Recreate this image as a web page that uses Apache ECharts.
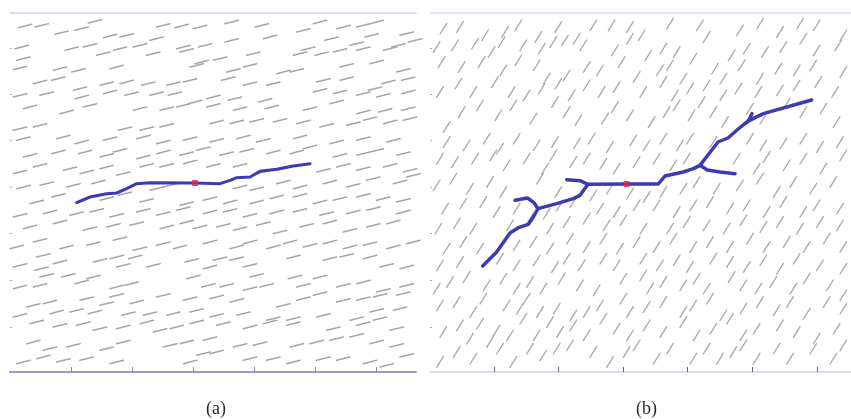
<!DOCTYPE html>
<html>
<head>
<meta charset="utf-8">
<script src="https://cdn.jsdelivr.net/npm/echarts@6.0.0/dist/echarts.min.js"></script>
<style>
  html, body { margin: 0; padding: 0; background: #fff; }
  #chart { width: 851px; height: 419px; }
</style>
</head>
<body>
<div id="chart"></div>
<script>
// units: both panels use the same local units (3 units = 1 px on the picture), y grows downward

// (a) background fractures, centers [x, y]
const fracturesA = [
  [45,42],[95,40],[155,62],[215,50],[255,28],[300,72],[350,70],[460,40],[515,42],[570,45],[665,30],[755,40],[880,55],[930,30],[1000,45],[1060,40],[1100,30],[1190,65],
  [35,105],[185,110],[240,100],[330,110],[390,100],[440,80],[520,105],[585,100],[665,85],[780,75],[895,110],[965,80],[1040,95],[1085,70],[1165,100],[1215,85],
  [40,140],[280,125],[430,125],[530,115],[575,150],[630,140],[730,125],[870,125],[935,125],[990,115],[1060,110],[1140,110],
  [30,168],[150,170],[205,175],[320,165],[560,160],[670,175],[720,160],[820,180],[860,175],[1010,160],[1100,150],[1180,175],
  [90,210],[145,200],[210,230],[290,215],[350,210],[415,215],[490,215],[540,205],[655,200],[720,215],[790,215],[940,205],[1010,200],[1095,230],[1135,210],[1195,200],
  [30,250],[110,245],[215,255],[300,240],[365,245],[440,245],[495,245],[555,270],[610,255],[675,260],[765,265],[930,235],[990,240],[1060,245],[1120,250],[1195,240],
  [60,285],[170,300],[240,280],[390,290],[470,290],[520,280],[610,280],[690,290],[785,285],[900,290],[980,270],[1060,300],[1125,295],[1195,290],
  [30,350],[90,340],[345,350],[410,350],[470,340],[620,330],[680,330],[740,325],[810,325],[880,330],[950,340],[1030,335],[1080,320],[1140,330],[1200,320],
  [40,380],[160,375],[215,390],[300,380],[400,375],[460,390],[540,380],[620,385],[700,375],[760,385],[870,375],[980,390],[1060,380],[1150,385],
  [60,430],[145,420],[225,420],[290,430],[330,415],[400,435],[460,420],[530,425],[580,410],[650,425],[710,415],[790,420],[860,420],[900,405],[990,430],[1060,425],[1100,415],[1180,425],
  [30,480],[90,460],[180,470],[230,480],[290,465],[340,485],[410,460],[470,460],[540,450],[610,460],[690,460],[760,480],[820,470],[940,475],[1000,460],[1060,470],[1140,460],[1200,475],
  [40,525],[110,515],[190,520],[265,510],[440,530],[480,520],[690,525],[740,530],[820,510],[870,525],[960,510],[1030,520],[1090,500],[1170,510],[1210,490],
  [80,570],[145,550],[290,560],[345,545],[410,565],[530,575],[600,560],[660,570],[740,570],[800,555],[870,550],[930,570],[990,560],[1060,550],[1120,560],[1180,565],
  [30,610],[120,600],[200,605],[260,595],[320,610],[400,595],[460,605],[520,590],[600,600],[660,595],[720,610],[800,600],[870,595],[950,605],[1030,600],[1090,590],[1180,600],
  [60,645],[150,630],[240,650],[310,640],[380,635],[470,645],[530,630],[570,645],[640,640],[690,650],[760,635],[810,660],[890,640],[960,630],[1020,655],[1090,640],[1150,630],
  [20,705],[90,685],[170,705],[250,695],[330,680],[390,710],[460,695],[510,705],[600,690],[680,705],[720,690],[790,705],[840,690],[900,700],[960,690],[1020,705],[1080,695],[1150,705],[1210,690],
  [30,760],[100,730],[95,770],[150,750],[270,745],[320,735],[340,760],[375,735],[430,760],[545,745],[600,765],[630,740],[680,740],[720,760],[850,735],[960,740],[1010,730],[1080,735],[1130,760],[1190,765],
  [30,825],[90,820],[110,790],[175,790],[215,810],[250,795],[320,825],[365,815],[550,795],[595,820],[650,820],[740,790],[720,830],[770,820],[855,795],[880,820],[930,795],[1000,820],[1060,810],[1120,835],[1190,820],
  [70,880],[120,870],[230,860],[290,875],[320,850],[380,870],[460,850],[540,860],[620,855],[680,865],[820,880],[880,860],[930,845],[1000,865],[1060,860],[1110,850],[1180,845],
  [30,910],[140,900],[200,895],[255,900],[355,905],[420,905],[490,905],[560,895],[620,910],[700,905],[790,920],[850,920],[940,910],[1040,920],[1100,895],[1170,890],
  [80,930],[150,940],[220,935],[270,950],[340,945],[410,930],[450,955],[500,945],[560,930],[640,935],[720,945],[780,930],[850,935],[970,950],[1060,935],[1110,920],[1160,950],
  [70,990],[120,1010],[190,1000],[290,1010],[340,990],[480,1000],[530,990],[600,980],[690,1000],[750,995],[860,1000],[920,990],[980,980],[1040,970],[1100,990],[1160,1000],
  [40,1050],[100,1035],[160,1045],[230,1040],[320,1050],[540,1050],[580,1025],[620,1020],[720,1040],[790,1040],[850,1050],[940,1040],[1000,1040],[1080,1050],[1130,1060],[1190,1030]
];

// (b) background fractures, centers [x, y]
const fracturesB = [
  [40,50],[90,45],[165,70],[225,60],[265,40],[325,75],[385,45],[440,80],[490,40],[545,40],[600,45],[635,70],[720,35],[810,40],[930,55],[990,35],[1050,60],[1110,35],[1160,40],[1240,70],
  [20,105],[75,100],[135,95],[185,120],[215,90],[280,100],[335,110],[370,90],[405,85],[460,100],[555,115],[600,80],[655,130],[700,110],[740,120],[830,75],[905,130],[950,110],[1005,120],[1060,105],[1120,80],[1160,115],[1225,100],
  [35,150],[95,165],[155,150],[220,175],[265,145],[320,160],[350,200],[410,190],[470,165],[510,175],[575,150],[620,195],[690,175],[720,160],[760,200],[790,140],[855,170],[880,200],[935,160],[990,200],[1045,170],[1100,175],[1150,160],[1240,180],
  [30,240],[85,215],[130,240],[195,210],[245,240],[290,250],[335,230],[385,215],[425,250],[470,220],[515,240],[560,225],[640,240],[700,210],[735,250],[780,230],[830,220],[880,250],[925,230],[985,240],[1050,235],[1100,220],[1165,210],[1215,240],
  [50,345],[95,300],[150,280],[205,310],[250,280],[310,320],[375,270],[410,300],[445,325],[525,320],[555,285],[600,310],[665,330],[710,300],[740,280],[785,310],[815,270],[850,300],[885,330],[960,290],[1000,320],[1070,275],[1120,300],[1180,290],[1220,330],
  [50,390],[110,400],[170,380],[210,410],[260,380],[320,400],[375,390],[440,395],[485,380],[540,405],[610,385],[650,400],[700,380],[750,400],[780,380],[850,390],[960,380],[1000,400],[1060,395],[1120,380],[1170,405],[1230,390],
  [30,440],[75,450],[135,440],[190,430],[230,460],[290,440],[345,470],[370,430],[430,450],[470,440],[520,455],[560,470],[620,450],[680,440],[730,460],[770,440],[920,440],[980,470],[1010,435],[1070,460],[1120,440],[1180,470],[1240,430],
  [20,520],[70,500],[120,530],[180,510],[220,540],[330,500],[385,540],[490,550],[540,530],[600,545],[650,555],[700,540],[760,530],[800,510],[860,530],[930,520],[990,500],[1040,540],[1090,510],[1150,530],[1210,510],
  [45,590],[100,575],[160,570],[200,600],[260,590],[350,605],[390,580],[430,570],[510,590],[560,600],[620,580],[680,580],[740,600],[790,580],[840,570],[900,590],[950,580],[1010,600],[1060,570],[1120,600],[1160,580],[1230,590],
  [25,650],[80,635],[130,650],[240,640],[300,620],[360,650],[410,630],[470,620],[530,640],[580,625],[640,650],[720,650],[770,630],[830,640],[890,650],[940,625],[1000,645],[1050,630],[1110,650],[1170,630],[1230,640],
  [50,710],[100,690],[150,710],[260,700],[310,690],[360,710],[420,680],[470,705],[520,680],[570,710],[620,690],[680,705],[730,680],[790,705],[840,690],[900,705],[960,680],[1010,705],[1070,690],[1130,705],[1190,680],[1240,705],
  [30,760],[90,750],[210,740],[260,760],[320,745],[375,765],[410,740],[455,760],[520,740],[560,760],[640,740],[690,760],[740,745],[780,765],[850,740],[900,750],[950,765],[1000,745],[1050,770],[1100,740],[1170,760],[1240,770],
  [20,830],[60,810],[110,795],[170,820],[220,800],[260,830],[300,810],[340,830],[395,800],[450,820],[500,835],[580,800],[640,790],[660,830],[700,810],[760,820],[800,800],[830,830],[905,795],[940,820],[985,830],[1030,810],[1090,830],[1130,800],[1200,820],[1240,850],
  [30,880],[80,870],[130,900],[160,860],[230,880],[270,890],[290,860],[330,900],[380,890],[430,910],[470,900],[510,880],[580,860],[600,900],[650,885],[700,870],[760,900],[790,880],[840,860],[880,910],[940,890],[990,870],[1040,895],[1080,870],[1130,905],[1190,870],[1240,890],
  [40,960],[90,940],[120,980],[150,935],[200,955],[240,970],[280,920],[320,970],[360,930],[390,960],[430,940],[470,970],[520,920],[560,950],[600,970],[650,940],[700,960],[760,930],[800,970],[850,950],[900,920],[940,970],[980,950],[1050,940],[1100,960],[1160,980],[1220,950],
  [30,1050],[80,1020],[130,1040],[180,990],[210,1010],[250,1050],[300,1010],[340,1030],[380,1010],[420,1000],[490,1020],[540,1050],[590,1020],[620,1000],[680,1040],[720,1010],[790,1040],[830,1010],[870,1040],[910,1020],[940,1000],[980,1040],[1040,1010],[1080,1040],[1150,1010],[1210,1040],[1240,1000]
];

// half extent of one fracture [dx, dy] (orientation of each set)
const halfA = [20, 5];
const halfB = [10, 16];

// propagated crack paths
const crackA = [[200,572],[240,555],[290,545],[320,543],[350,530],[380,515],[420,512],[555,513],[630,515],[660,505],[680,497],[720,495],[750,478],[800,472],[850,462],[900,455]];
const crackBMain = [[158,762],[200,720],[240,663],[265,647],[295,637],[310,615],[324,590],[380,575],[430,560],[450,550],[474,517],[590,516],[685,516],[705,492],[760,480],[790,470],[810,460],[834,429],[864,390],[894,378],[921,354],[953,328],[1000,305],[1145,264]];
const crackBBranch1 = [[324,590],[312,572],[292,558],[255,565]];
const crackBBranch2 = [[474,517],[450,506],[410,503]];
const crackBBranch3 = [[810,460],[832,474],[870,480],[915,485]];
const crackBBranch4 = [[950,332],[960,318],[966,305]];

// injection points
const sourceA = [[555,513]];
const sourceB = [[590,516]];

// bottom axis ticks / left ticks
const ticksA = [183, 366, 549, 732, 915, 1098];
const ticksB = [192, 385, 579, 773, 968, 1161];
const yTicks = [108, 246, 384, 525, 663, 804, 945];

const chart = echarts.init(document.getElementById('chart'), null, {renderer: 'canvas'});

function fractureSeries(data, half, xi, yi, color, width) {
    return {
        type: 'custom',
        xAxisIndex: xi,
        yAxisIndex: yi,
        silent: true,
        data: data,
        renderItem: function (params, api) {
            const x = api.value(0), y = api.value(1);
            const p1 = api.coord([x - half[0], y + half[1]]);
            const p2 = api.coord([x + half[0], y - half[1]]);
            return {
                type: 'line',
                shape: {x1: p1[0], y1: p1[1], x2: p2[0], y2: p2[1]},
                style: {stroke: color, lineWidth: width, lineCap: 'round'}
            };
        }
    };
}

function crackSeries(data, xi, yi, width) {
    return {
        type: 'line',
        xAxisIndex: xi,
        yAxisIndex: yi,
        data: data,
        showSymbol: false,
        silent: true,
        lineStyle: {color: '#3b3bb3', width: width, cap: 'round', join: 'round'},
        z: 5
    };
}

function bottomAxis(grid, max, ticks, lineColor, lineWidth, tickColor) {
    return {
        type: 'value', gridIndex: grid, min: 0, max: max, position: 'bottom',
        axisLine: {show: true, lineStyle: {color: lineColor, width: lineWidth}},
        axisTick: {show: true, inside: true, length: 5, customValues: ticks, lineStyle: {color: tickColor, width: 1}},
        axisLabel: {show: false},
        splitLine: {show: false}
    };
}

function topAxis(grid, max, lineColor, lineWidth) {
    return {
        type: 'value', gridIndex: grid, min: 0, max: max, position: 'top',
        axisLine: {show: true, lineStyle: {color: lineColor, width: lineWidth}},
        axisTick: {show: false}, axisLabel: {show: false}, splitLine: {show: false}
    };
}

function sideAxis(grid) {
    return {
        type: 'value', gridIndex: grid, min: 3, max: 1080, inverse: true,
        axisLine: {show: false},
        axisTick: {show: true, inside: true, length: 2, customValues: yTicks, lineStyle: {color: '#aaa'}},
        axisLabel: {show: false}, splitLine: {show: false}
    };
}

chart.setOption({
    animation: false,
    backgroundColor: '#fff',
    title: [
        {text: '(a)', left: 201, top: 395, textStyle: {fontFamily: 'Liberation Serif', fontSize: 18, fontWeight: 'normal', color: '#2a2a2a'}},
        {text: '(b)', left: 631, top: 395, textStyle: {fontFamily: 'Liberation Serif', fontSize: 18, fontWeight: 'normal', color: '#2a2a2a'}}
    ],
    grid: [
        {left: 10, top: 13, width: 406, height: 359},
        {left: 430, top: 13, width: 421, height: 359}
    ],
    xAxis: [
        bottomAxis(0, 1218, ticksA, '#a093de', 2, '#8a82b8'),
        topAxis(0, 1218, '#e3dbf6', 2),
        bottomAxis(1, 1263, ticksB, '#cfcff0', 1.5, '#666'),
        topAxis(1, 1263, '#dedef6', 1.5)
    ],
    yAxis: [sideAxis(0), sideAxis(1)],
    series: [
        fractureSeries(fracturesA, halfA, 0, 0, '#a6a6a6', 1.6),
        fractureSeries(fracturesB, halfB, 2, 1, '#aaaaaa', 1.4),
        crackSeries(crackA, 0, 0, 3),
        crackSeries(crackBMain, 2, 1, 3.5),
        crackSeries(crackBBranch1, 2, 1, 3.5),
        crackSeries(crackBBranch2, 2, 1, 3.5),
        crackSeries(crackBBranch3, 2, 1, 3.5),
        crackSeries(crackBBranch4, 2, 1, 3.5),
        {type: 'scatter', xAxisIndex: 0, yAxisIndex: 0, data: sourceA, symbol: 'rect', symbolSize: 6, itemStyle: {color: '#e4223f'}, z: 10, silent: true},
        {type: 'scatter', xAxisIndex: 2, yAxisIndex: 1, data: sourceB, symbol: 'rect', symbolSize: 6, itemStyle: {color: '#e4223f'}, z: 10, silent: true}
    ]
});
</script>
</body>
</html>
